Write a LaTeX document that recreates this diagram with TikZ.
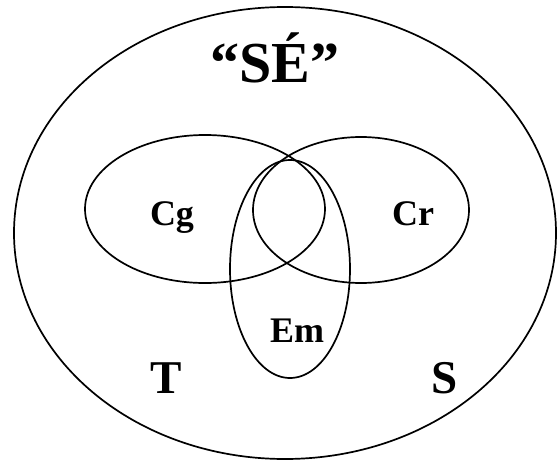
\documentclass[tikz,border=0pt]{standalone}
\usepackage{fontspec}
\setmainfont{Liberation Serif}
\begin{document}
\begin{tikzpicture}[x=1pt,y=-1pt,
  ring/.style={draw=black,line width=1.7pt},
  lbl/.style={font=\bfseries\fontsize{36}{40}\selectfont,anchor=base,inner sep=0pt},
  big/.style={font=\bfseries\fontsize{47}{52}\selectfont,anchor=base,inner sep=0pt}]
\useasboundingbox (0,0) rectangle (558,461);
\coordinate (outerc) at (285,233);
\coordinate (cgc) at (205,209);
\coordinate (crc) at (361,210);
\coordinate (emc) at (290,269);
\draw[ring] (outerc) ellipse [x radius=271, y radius=226];
\draw[ring] (cgc) ellipse [x radius=120, y radius=74];
\draw[ring] (crc) ellipse [x radius=108, y radius=73];
\draw[ring] (emc) ellipse [x radius=60, y radius=109];
\node[anchor=base,inner sep=0pt,font=\bfseries\fontsize{58}{62}\selectfont] (se) at (275,82) {“SÉ”};
\node[lbl] (cg) at (172,225) {Cg};
\node[lbl] (cr) at (413,225) {Cr};
\node[lbl] (em) at (297,342) {Em};
\node[big] (t) at (166,393) {T};
\node[big] (s) at (445,393) {S};
\end{tikzpicture}
\end{document}
